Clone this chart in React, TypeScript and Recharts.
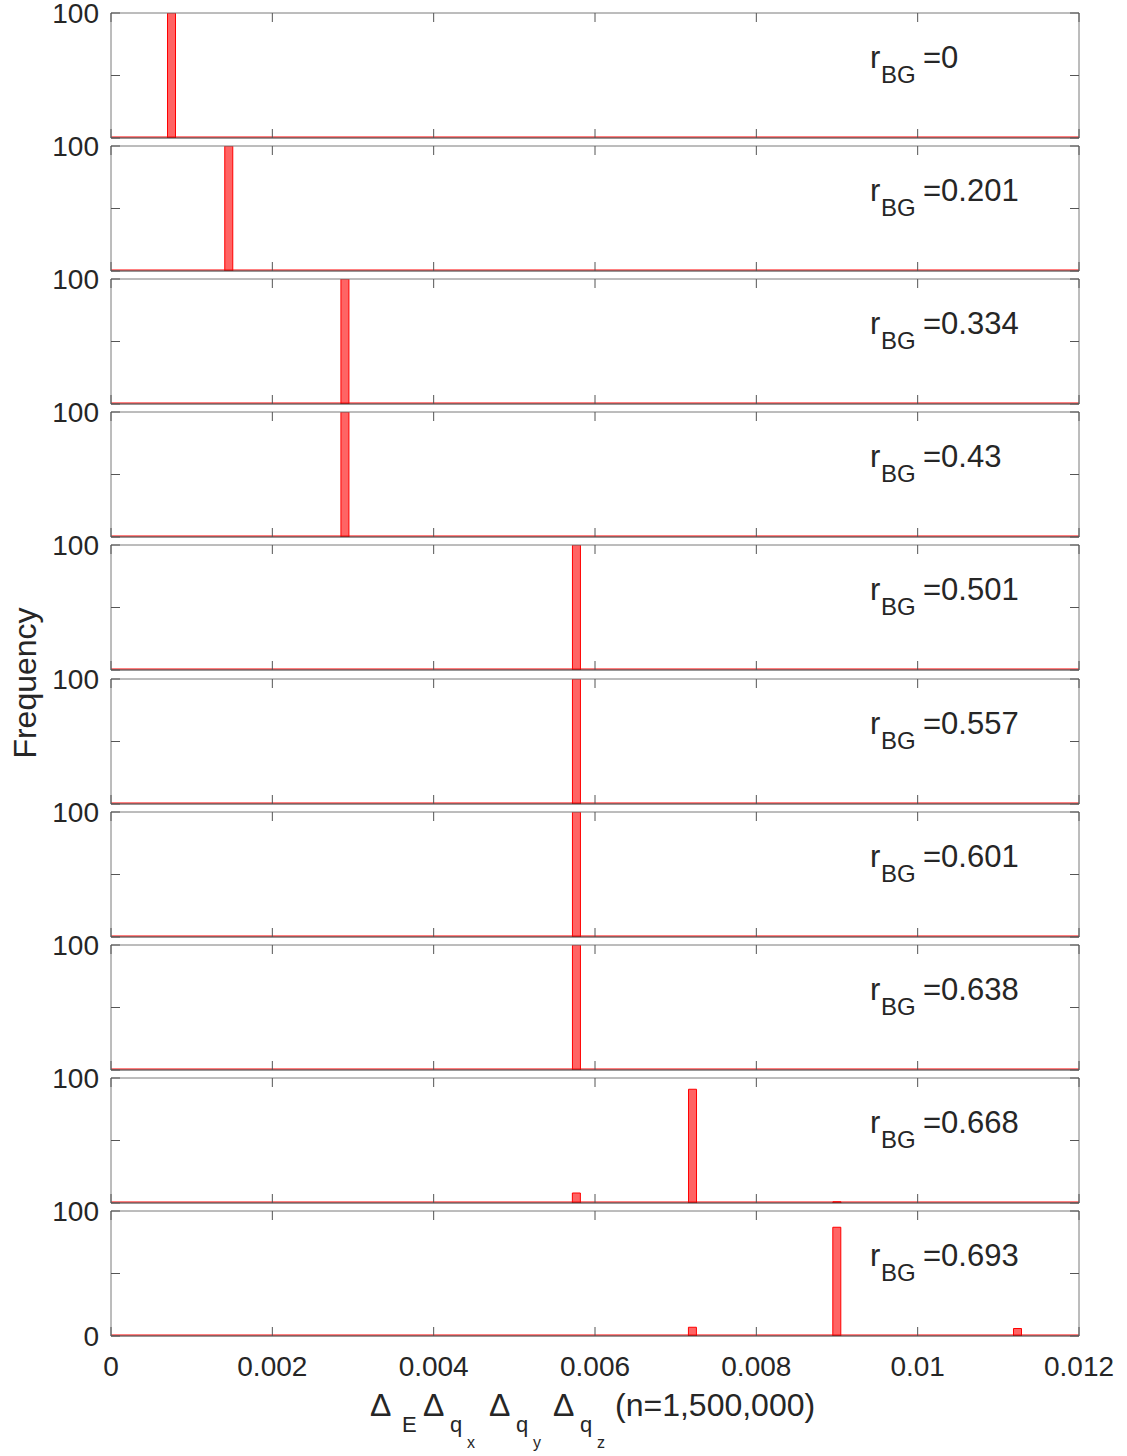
import React from "react";
import { BarChart, Bar, XAxis, YAxis, ReferenceLine } from "recharts";

// r_BG value for each stacked panel, top to bottom
const rbgValues = ["0", "0.201", "0.334", "0.43", "0.501", "0.557", "0.601", "0.638", "0.668", "0.693"];

// histogram bin centres (product of deltas) per panel
const binCenters = [
  [0.00075],
  [0.00146],
  [0.0029],
  [0.0029],
  [0.00577],
  [0.00577],
  [0.00577],
  [0.00577],
  [0.00577, 0.00721, 0.009],
  [0.00721, 0.009, 0.01124],
];

// frequency (%) of each bin above
const frequencies = [
  [100],
  [100],
  [100],
  [100],
  [100],
  [100],
  [100],
  [100],
  [8, 91, 1],
  [7, 87, 6],
];

const xTicks = [0, 0.002, 0.004, 0.006, 0.008, 0.01, 0.012];
const yTicks = [0, 50, 100];

const W = 1127;
const H = 1456;
const PLOT_LEFT = 111;
const RIGHT_MARGIN = 48;
const FIRST_TOP = 13;
const STEP = 133.1;
const PANEL_H = 125;
const TOP_PAD = 16;

const FONT = '"Liberation Sans", Arial, Helvetica, sans-serif';
const TEXT = "#262626";
const BOX = "#7a7a7a";
const TICK = "#555555";

const fmtX = (v: number) => (v === 0 ? "0" : String(v));

function Panel({ index }: { index: number }) {
  const last = index === rbgValues.length - 1;
  const data = binCenters[index].map((x, j) => ({ x, freq: frequencies[index][j] }));
  const bottom = last ? 120 : 6;
  const top = FIRST_TOP + index * STEP - TOP_PAD;

  // the top and right axes take 1px each, so the margins give that back
  return (
    <div style={{ position: "absolute", left: 0, top }}>
      <BarChart
        width={W}
        height={TOP_PAD + PANEL_H + bottom + 1}
        data={data}
        margin={{ top: TOP_PAD - 1, right: RIGHT_MARGIN - 1, bottom, left: 0 }}
        style={{ overflow: "visible" }}
      >
        <XAxis
          dataKey="x"
          type="number"
          domain={[0, 0.012]}
          ticks={xTicks}
          interval={0}
          height={1}
          tickSize={0}
          tickMargin={0}
          allowDataOverflow
          axisLine={{ stroke: "#333333" }}
          tickLine={false}
          tick={(p: any) => (
            <g>
              <line x1={p.x} x2={p.x} y1={p.y} y2={p.y - 9} stroke={TICK} />
              {last && (
                <text x={p.x} y={p.y + 40} textAnchor="middle" fontSize={28} fill={TEXT} fontFamily={FONT}>
                  {fmtX(p.payload.value)}
                </text>
              )}
            </g>
          )}
        />
        <XAxis
          xAxisId="top"
          orientation="top"
          dataKey="x"
          type="number"
          domain={[0, 0.012]}
          ticks={xTicks}
          interval={0}
          height={1}
          tickSize={0}
          tickMargin={0}
          allowDataOverflow
          axisLine={{ stroke: BOX }}
          tickLine={false}
          tick={(p: any) => <line x1={p.x} x2={p.x} y1={p.y} y2={p.y + 9} stroke={TICK} />}
        />
        <YAxis
          type="number"
          domain={[0, 100]}
          ticks={yTicks}
          interval={0}
          width={PLOT_LEFT}
          tickSize={0}
          tickMargin={0}
          allowDataOverflow
          axisLine={{ stroke: BOX }}
          tickLine={false}
          tick={(p: any) => {
            const v = p.payload.value;
            const show = v === 100 || (last && v === 0);
            return (
              <g>
                <line x1={p.x} x2={p.x + 9} y1={p.y} y2={p.y} stroke={TICK} />
                {show && (
                  <text x={p.x - 12} y={p.y + 10} textAnchor="end" fontSize={28} fill={TEXT} fontFamily={FONT}>
                    {v}
                  </text>
                )}
              </g>
            );
          }}
        />
        <YAxis
          yAxisId="right"
          orientation="right"
          type="number"
          domain={[0, 100]}
          ticks={yTicks}
          interval={0}
          width={1}
          tickSize={0}
          tickMargin={0}
          allowDataOverflow
          axisLine={{ stroke: BOX }}
          tickLine={false}
          tick={(p: any) => <line x1={p.x} x2={p.x - 9} y1={p.y} y2={p.y} stroke={TICK} />}
        />
        {/* empty bins leave a red edge along the baseline */}
        <ReferenceLine
          y={0}
          stroke="#ff0000"
          shape={(p: any) => (
            <line x1={p.x1} x2={p.x2} y1={p.y1 - 1} y2={p.y2 - 1} stroke="#ff0000" strokeWidth={1} />
          )}
        />
        <Bar
          dataKey="freq"
          fill="#ff6464"
          stroke="#ff0000"
          strokeWidth={1}
          barSize={8}
          isAnimationActive={false}
        />
      </BarChart>
    </div>
  );
}

function Titles() {
  const base = FIRST_TOP + 9 * STEP + PANEL_H + 80;
  const sub = base + 16;
  const subsub = base + 32;
  return (
    <svg
      width={W}
      height={H}
      style={{ position: "absolute", left: 0, top: 0, pointerEvents: "none" }}
      fontFamily={FONT}
      fill={TEXT}
    >
      {rbgValues.map((r, i) => {
        const t = FIRST_TOP + i * STEP;
        return (
          <g key={r + i}>
            <text x={870} y={t + 55} fontSize={31}>r</text>
            <text x={881} y={t + 70} fontSize={24}>BG</text>
            <text x={923} y={t + 55} fontSize={31}>={r}</text>
          </g>
        );
      })}
      <text transform="translate(36,683) rotate(-90)" textAnchor="middle" fontSize={32}>
        Frequency
      </text>
      <text x={370} y={base} fontSize={32}>Δ</text>
      <text x={402} y={sub} fontSize={22}>E</text>
      <text x={423} y={base} fontSize={32}>Δ</text>
      <text x={450} y={sub} fontSize={22}>q</text>
      <text x={467} y={subsub} fontSize={16}>x</text>
      <text x={489} y={base} fontSize={32}>Δ</text>
      <text x={516} y={sub} fontSize={22}>q</text>
      <text x={533} y={subsub} fontSize={16}>y</text>
      <text x={553} y={base} fontSize={32}>Δ</text>
      <text x={580} y={sub} fontSize={22}>q</text>
      <text x={597} y={subsub} fontSize={16}>z</text>
      <text x={615} y={base} fontSize={32}>(n=1,500,000)</text>
    </svg>
  );
}

export default function App() {
  return (
    <div
      style={{
        position: "absolute",
        left: 0,
        top: 0,
        width: W,
        height: H,
        overflow: "hidden",
        background: "#ffffff",
      }}
    >
      {rbgValues.map((_, i) => (
        <Panel key={i} index={i} />
      ))}
      <Titles />
    </div>
  );
}
